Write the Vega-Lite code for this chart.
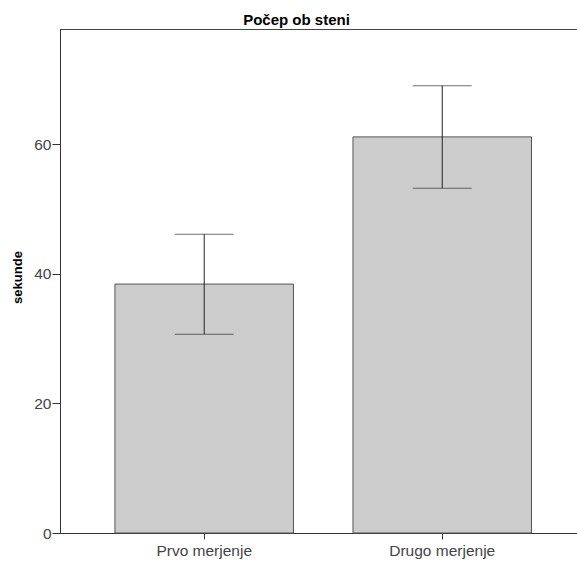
{
  "$schema": "https://vega.github.io/schema/vega-lite/v6.json",
  "width": 517,
  "height": 504,
  "autosize": {"type": "none"},
  "padding": {"left": 60, "top": 29, "right": 0, "bottom": 29},
  "background": "white",
  "title": {
    "text": "Počep ob steni",
    "font": "Liberation Sans",
    "fontSize": 15,
    "fontWeight": "bold",
    "color": "#000000",
    "anchor": "middle",
    "offset": 1,
    "dx": -22
  },
  "config": {
    "view": {"stroke": "#444444", "strokeWidth": 1},
    "font": "Liberation Sans"
  },
  "data": {
    "values": [
      {"meritev": "Prvo merjenje", "sekunde": 38.4, "lo": 30.65, "hi": 46.1},
      {"meritev": "Drugo merjenje", "sekunde": 61.1, "lo": 53.17, "hi": 69.0}
    ]
  },
  "encoding": {
    "x": {
      "field": "meritev",
      "type": "nominal",
      "sort": ["Prvo merjenje", "Drugo merjenje"],
      "scale": {"paddingInner": 0.25, "paddingOuter": 0.211, "align": 0.547},
      "axis": {
        "title": null,
        "labelAngle": 0,
        "labelFont": "Liberation Sans",
        "labelFontSize": 15.5,
        "labelColor": "#444444",
        "labelPadding": 4,
        "tickSize": 6,
        "tickColor": "#333333",
        "domainColor": "#333333"
      }
    }
  },
  "layer": [
    {
      "mark": {"type": "bar", "fill": "#cccccc", "stroke": "#555555", "strokeWidth": 1},
      "encoding": {
        "y": {
          "field": "sekunde",
          "type": "quantitative",
          "scale": {"domain": [0, 77.74], "nice": false, "zero": true},
          "axis": {
            "title": "sekunde",
            "titleFont": "Liberation Sans",
            "titleFontSize": 13,
            "titleFontWeight": "bold",
            "titleColor": "#000000",
            "titleY": 248,
            "titleX": -36,
            "titleAngle": -90,
            "titleBaseline": "bottom",
            "titleAlign": "center",
            "values": [0, 20, 40, 60],
            "grid": false,
            "labelFont": "Liberation Sans",
            "labelFontSize": 15.5,
            "labelColor": "#444444",
            "labelPadding": 1,
            "tickSize": 8,
            "tickColor": "#333333",
            "domainColor": "#333333"
          }
        }
      }
    },
    {
      "mark": {"type": "rule", "color": "#222222", "strokeWidth": 1},
      "encoding": {
        "y": {"field": "lo", "type": "quantitative"},
        "y2": {"field": "hi"}
      }
    },
    {
      "mark": {"type": "tick", "color": "#333333", "size": 59, "thickness": 1},
      "encoding": {
        "y": {"field": "lo", "type": "quantitative"}
      }
    },
    {
      "mark": {"type": "tick", "color": "#333333", "size": 59, "thickness": 1},
      "encoding": {
        "y": {"field": "hi", "type": "quantitative"}
      }
    }
  ]
}
